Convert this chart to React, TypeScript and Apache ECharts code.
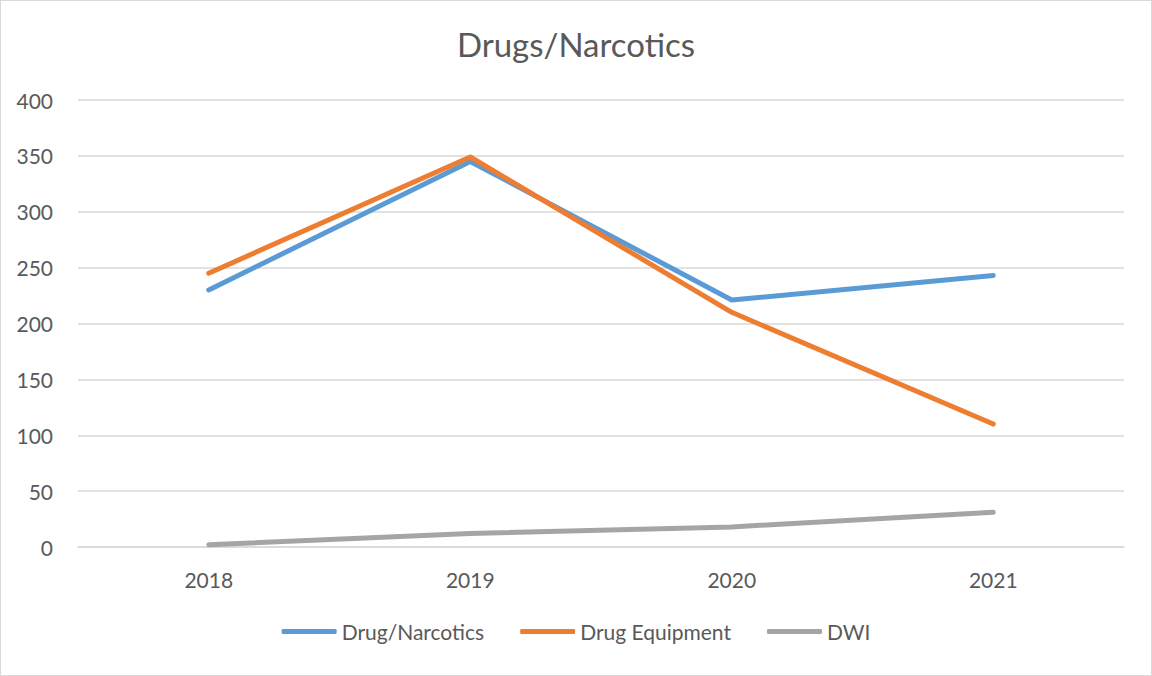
import React, { useEffect, useRef } from "react";
import * as echarts from "echarts";

const categories = ["2018", "2019", "2020", "2021"];
const drugNarcotics = [230, 345, 221, 243];
const drugEquipment = [245, 349, 210, 110];
const dwi = [2, 12, 18, 31];
const seriesNames = ["Drug/Narcotics", "Drug Equipment", "DWI"];
const colors = ["#5b9bd5", "#ed7d31", "#a5a5a5"];

const FONT = "Lato, 'Open Sans', sans-serif";

export default function App() {
  const ref = useRef<HTMLDivElement>(null);
  useEffect(() => {
    document.body.style.margin = "0";
    const chart = echarts.init(ref.current!, null, { renderer: "svg" });
    const data = [drugNarcotics, drugEquipment, dwi];
    chart.setOption({
      animation: false,
      backgroundColor: "#ffffff",
      title: {
        text: "Drugs/Narcotics",
        left: "center",
        top: 21,
        textStyle: { color: "#595959", fontSize: 33, fontWeight: "normal", fontFamily: FONT },
      },
      legend: {
        bottom: 28,
        left: "center",
        icon: "roundRect",
        itemWidth: 55,
        itemHeight: 5,
        itemGap: 36,
        textStyle: { color: "#595959", fontSize: 21, fontFamily: FONT },
        data: seriesNames,
      },
      grid: { left: 77, right: 27, top: 99, bottom: 128 },
      xAxis: {
        type: "category",
        data: categories,
        boundaryGap: true,
        axisLine: { lineStyle: { color: "#d9d9d9", width: 1.5 } },
        axisTick: { show: false },
        axisLabel: { color: "#595959", fontSize: 21, fontFamily: FONT, margin: 22 },
      },
      yAxis: {
        type: "value",
        min: 0,
        max: 400,
        interval: 50,
        axisLine: { show: false },
        axisTick: { show: false },
        splitLine: { lineStyle: { color: "#d9d9d9", width: 1.5 } },
        axisLabel: { color: "#595959", fontSize: 21, fontFamily: FONT, margin: 25 },
      },
      series: seriesNames.map((name, i) => ({
        name,
        type: "line",
        data: data[i],
        symbol: "none",
        itemStyle: { color: colors[i] },
        lineStyle: { color: colors[i], width: 5, cap: "round", join: "round" },
      })),
    });
    return () => chart.dispose();
  }, []);
  return (
    <div
      ref={ref}
      style={{
        width: 1152,
        height: 676,
        boxSizing: "border-box",
        border: "1px solid #d9d9d9",
      }}
    />
  );
}
